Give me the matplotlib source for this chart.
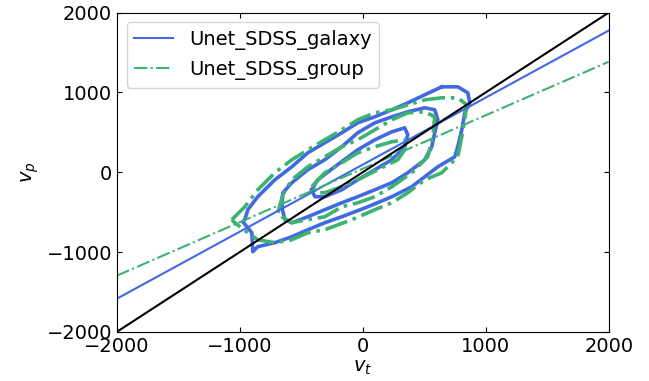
import numpy as np
import matplotlib
matplotlib.use("Agg")
import matplotlib.pyplot as plt

# regression fits (slope, intercept)
fit_galaxy = (0.84, 95)
fit_group = (0.67, 44)
line_x = [-2000, 2000]

# contour outlines (v_t, v_p), three levels per sample
galaxy_outer_x = [642, 772, 854, 870, 829, 805, 772, 748, 610, 504, 398, 236, 41, -171, -309, -447, -577, -715, -854, -894, -902, -976, -959, -935, -854, -715, -577, -447, -309, -171, -41, 98, 236, 366, 504]
galaxy_outer_y = [1070, 1070, 995, 869, 744, 531, 319, 193, 68, -57, -182, -307, -433, -558, -633, -721, -808, -883, -933, -996, -758, -620, -595, -470, -307, -95, 68, 243, 369, 494, 619, 694, 782, 869, 970]
galaxy_mid_x = [-659, -650, -577, -447, -309, -171, -41, 98, 236, 366, 504, 585, 610, 585, 561, 504, 366, 236, 98, -41, -171, -309, -447, -577, -634]
galaxy_mid_y = [-433, -257, -132, 31, 156, 319, 494, 619, 694, 757, 807, 782, 657, 494, 319, 156, -7, -132, -220, -307, -383, -470, -558, -633, -595]
galaxy_in_x = [-415, -366, -228, -41, 98, 236, 341, 366, 341, 236, 98, -41, -171, -309, -390]
galaxy_in_y = [-220, -95, 68, 281, 406, 506, 556, 469, 319, 156, 31, -95, -220, -307, -307]

group_outer_x = [-1065, -959, -854, -715, -577, -447, -309, -171, -41, 98, 236, 366, 504, 642, 772, 846, 829, 805, 772, 642, 504, 366, 236, 98, -89, -309, -447, -577, -715, -854, -935, -1041]
group_outer_y = [-595, -433, -220, -7, 156, 281, 406, 531, 657, 744, 782, 844, 907, 932, 932, 844, 657, 444, 193, -7, -95, -257, -383, -470, -595, -721, -758, -846, -883, -846, -758, -633]
group_mid_x = [-691, -650, -577, -447, -309, -171, -41, 98, 236, 366, 504, 585, 569, 528, 398, 236, 98, -41, -171, -309, -447, -577, -659]
group_mid_y = [-508, -282, -95, 68, 193, 319, 406, 531, 657, 744, 757, 694, 444, 193, -7, -182, -307, -383, -433, -558, -595, -633, -558]
group_in_x = [-415, -309, -171, -41, 98, 236, 341, 358, 285, 122, -41, -171, -309, -390]
group_in_y = [-182, -7, 118, 243, 319, 381, 406, 319, 156, 31, -95, -182, -257, -257]

blue = "royalblue"
green = "mediumseagreen"

plt.rcParams['font.size'] = 14
fig = plt.figure(figsize=(6.49, 3.81), dpi=100)
ax = fig.add_axes([0.180, 0.129, 0.758, 0.838])


def closed(xs, ys):
    return list(xs) + [xs[0]], list(ys) + [ys[0]]


for xs, ys in [(galaxy_outer_x, galaxy_outer_y), (galaxy_mid_x, galaxy_mid_y), (galaxy_in_x, galaxy_in_y)]:
    cx, cy = closed(xs, ys)
    ax.plot(cx, cy, color=blue, lw=2.6, solid_joinstyle='round')
for xs, ys in [(group_outer_x, group_outer_y), (group_mid_x, group_mid_y), (group_in_x, group_in_y)]:
    cx, cy = closed(xs, ys)
    ax.plot(cx, cy, color=green, lw=2.6, ls='-.')

lx = np.array(line_x)
ax.plot(lx, fit_galaxy[0] * lx + fit_galaxy[1], color=blue, lw=1.5, label='Unet_SDSS_galaxy')
ax.plot(lx, fit_group[0] * lx + fit_group[1], color=green, lw=1.5, ls='-.', label='Unet_SDSS_group')
ax.plot(lx, lx, color='black', lw=1.5)

ax.set_xlim(-2000, 2000)
ax.set_ylim(-2000, 2000)
ax.set_xticks([-2000, -1000, 0, 1000, 2000])
ax.set_yticks([-2000, -1000, 0, 1000, 2000])
ax.tick_params(direction='in', top=True, right=True, labelsize=14)
ax.set_xlabel('$v_t$', labelpad=2)
ax.set_ylabel('$v_p$')
ax.legend(loc='upper left', fontsize=14)

fig.savefig('out.png', dpi=100)
